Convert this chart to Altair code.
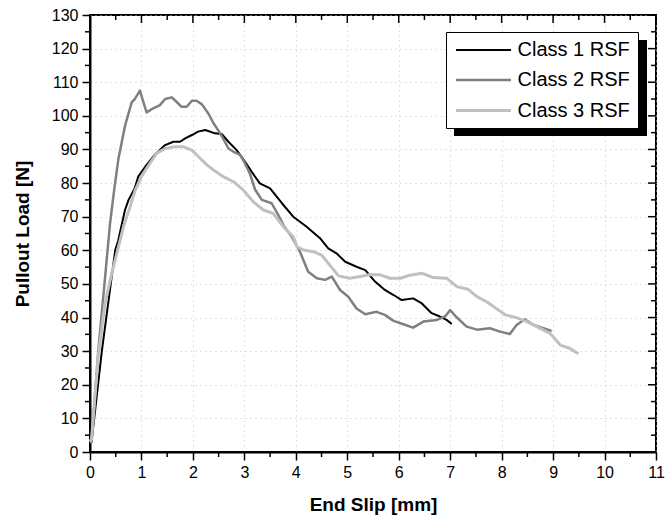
import altair as alt
import pandas as pd

# ---- data ----
c1_x = [0.0, 0.03, 0.23, 0.49, 0.55, 0.68, 0.75, 0.87, 0.94, 1.10, 1.26, 1.46, 1.62, 1.75, 1.85, 1.98,
        2.10, 2.24, 2.43, 2.56, 2.69, 2.85, 3.01, 3.14, 3.30, 3.50, 3.73, 3.95, 4.21, 4.47, 4.63, 4.79,
        4.96, 5.18, 5.35, 5.54, 5.73, 5.90, 6.06, 6.28, 6.45, 6.64, 6.80, 6.93, 7.03]
c1_y = [3, 3, 30, 60, 63, 72, 75, 78.5, 82, 85.4, 88.4, 91.3, 92.3, 92.3, 93.3, 94.3,
        95.3, 95.8, 94.8, 94.6, 92.3, 89.8, 86.4, 83.4, 79.9, 78.4, 74, 70, 67, 63.6, 60.6, 59.1,
        56.6, 55.1, 54.1, 50.7, 48.2, 46.7, 45.2, 45.7, 44.2, 41.3, 40.3, 39.3, 38.1]

c2_x = [0.0, 0.03, 0.16, 0.39, 0.47, 0.55, 0.68, 0.81, 0.87, 0.97, 1.02, 1.10, 1.20, 1.36, 1.46, 1.59,
        1.68, 1.78, 1.88, 1.98, 2.07, 2.17, 2.30, 2.40, 2.53, 2.62, 2.69, 2.79, 2.92, 3.01, 3.11, 3.21,
        3.34, 3.53, 3.66, 3.76, 3.92, 4.08, 4.24, 4.41, 4.57, 4.70, 4.86, 5.02, 5.18, 5.35, 5.57, 5.73,
        5.90, 6.09, 6.28, 6.48, 6.74, 6.90, 7.00, 7.13, 7.32, 7.52, 7.77, 7.97, 8.16, 8.29, 8.45, 8.62,
        8.81, 8.97]
c2_y = [3, 3, 30, 68, 78, 87, 97, 104, 105, 107.5, 105, 101, 102, 103.2, 105, 105.5,
        104.2, 102.7, 102.7, 104.5, 104.5, 103.5, 100.7, 97.8, 94.8, 92.3, 90.3, 89.3, 88.4, 85.9, 82.7, 78,
        75, 74, 70.5, 67.5, 64, 59.6, 53.6, 51.7, 51.2, 52.2, 48.2, 46.2, 42.7, 41, 41.7, 40.8,
        39, 38, 37, 38.8, 39.3, 40.3, 42.2, 40, 37.3, 36.4, 36.8, 35.8, 35.1, 37.8, 39.5, 37.8,
        36.8, 36]

c3_x = [0.0, 0.03, 0.16, 0.29, 0.42, 0.52, 0.65, 0.78, 0.87, 1.00, 1.17, 1.30, 1.46, 1.65, 1.81, 1.98,
        2.14, 2.27, 2.40, 2.59, 2.79, 2.98, 3.17, 3.37, 3.56, 3.76, 3.95, 4.02, 4.15, 4.34, 4.50, 4.66,
        4.83, 5.05, 5.25, 5.41, 5.64, 5.83, 6.03, 6.22, 6.45, 6.67, 6.93, 7.13, 7.35, 7.52, 7.71, 7.94,
        8.07, 8.26, 8.49, 8.75, 8.94, 9.14, 9.33, 9.49]
c3_y = [3, 4, 28.4, 44, 53, 59, 67, 73, 77.5, 82, 86, 88.9, 90.3, 90.8, 90.8, 89.8,
        87.4, 85.4, 83.9, 81.9, 80.4, 77.9, 74.5, 72, 71, 67, 64, 61.1, 60.1, 59.6, 58.6, 55.6,
        52.4, 51.7, 52.2, 52.7, 52.7, 51.7, 51.7, 52.6, 53.2, 51.9, 51.7, 49.2, 48.4, 46.2, 44.7, 42.2,
        40.8, 40.1, 38.8, 36.8, 35.3, 31.8, 30.8, 29.2]

series_names = ["Class 1 RSF", "Class 2 RSF", "Class 3 RSF"]
series_colors = ["#000000", "#808080", "#c0c0c0"]
series_widths = [2, 3, 4]

x_major = list(range(0, 12))
x_minor = [i + 0.5 for i in range(0, 11)]
y_major = list(range(0, 131, 10))
y_minor = list(range(5, 130, 10))

# ---- tables ----
rows = []
for name, xs, ys in zip(series_names, [c1_x, c2_x, c3_x], [c1_y, c2_y, c3_y]):
    for i, (a, b) in enumerate(zip(xs, ys)):
        rows.append({"series": name, "slip": a, "load": b, "i": i})
df = pd.DataFrame(rows)

W, H = 566, 437
FONT = "Liberation Sans"

xscale = alt.Scale(domain=[0, 11], nice=False, zero=False)
yscale = alt.Scale(domain=[0, 130], nice=False, zero=False)

xaxis = alt.Axis(values=x_major, title="End Slip [mm]", titleY=58,
                 titleBaseline="alphabetic", labelOverlap=False,
                 labelFlush=False, labelBound=False)
yaxis = alt.Axis(values=y_major, title="Pullout Load [N]", titleX=-58,
                 labelOverlap=False, labelFlush=False, labelBound=False)

lines = alt.Chart(df).mark_line(strokeJoin="round", strokeCap="butt").encode(
    x=alt.X("slip:Q", scale=xscale, axis=xaxis),
    y=alt.Y("load:Q", scale=yscale, axis=yaxis),
    color=alt.Color("series:N", scale=alt.Scale(domain=series_names, range=series_colors),
                    title=None),
    strokeWidth=alt.StrokeWidth("series:N",
                                scale=alt.Scale(domain=series_names, range=series_widths),
                                title=None),
    order="i:Q",
)

# shadow of the legend box (decoration)
shadow = alt.Chart(pd.DataFrame({"a": [0]})).mark_rect(color="black").encode(
    x=alt.value(364), x2=alt.value(557), y=alt.value(25), y2=alt.value(121)
)

xminor_df = pd.DataFrame({"slip": x_minor})
yminor_df = pd.DataFrame({"load": y_minor})
xmajor_df = pd.DataFrame({"slip": x_major})
ymajor_df = pd.DataFrame({"load": y_major})

def xrule(df_, y0, y1):
    return alt.Chart(df_).mark_rule(color="black", strokeWidth=1.5).encode(
        x=alt.X("slip:Q", scale=xscale, axis=xaxis), y=alt.value(y0), y2=alt.value(y1))

def yrule(df_, x0, x1):
    return alt.Chart(df_).mark_rule(color="black", strokeWidth=1.5).encode(
        y=alt.Y("load:Q", scale=yscale, axis=yaxis), x=alt.value(x0), x2=alt.value(x1))

ticks = [
    xrule(xminor_df, H, H + 5),      # bottom minor outward
    yrule(yminor_df, 0, -5),         # left minor outward
    xrule(xmajor_df, 0, 8),          # top major inward
    xrule(xminor_df, 0, 5),          # top minor inward
    yrule(ymajor_df, W, W - 8),      # right major inward
    yrule(yminor_df, W, W - 5),      # right minor inward
]

chart = alt.layer(shadow, lines, *ticks).properties(
    width=W, height=H,
    autosize=alt.AutoSizeParams(type="none"),
    padding={"left": 90, "top": 15, "right": 10, "bottom": 74},
    background="white",
).configure_view(
    stroke="black", strokeWidth=2
).configure_axis(
    domainColor="black", domainWidth=2,
    tickColor="black", tickWidth=1.5, tickSize=8,
    labelFont=FONT, labelFontSize=16, labelColor="black", labelPadding=4,
    titleFont=FONT, titleFontSize=19, titleFontWeight="bold", titleColor="black",
    grid=True, gridColor="#c4c4c4", gridDash=[1, 4], gridWidth=1,
).configure_legend(
    orient="none", legendX=356, legendY=17,
    fillColor="white", strokeColor="black", strokeWidth=1,
    padding=7.5, rowPadding=9,
    symbolType="M-3,0H3", symbolSize=336, symbolOffset=19, labelOffset=23,
    labelFont=FONT, labelFontSize=20, labelColor="black", labelLimit=300,
)

chart.save("out.html", embed_options={"renderer": "svg", "actions": False})
